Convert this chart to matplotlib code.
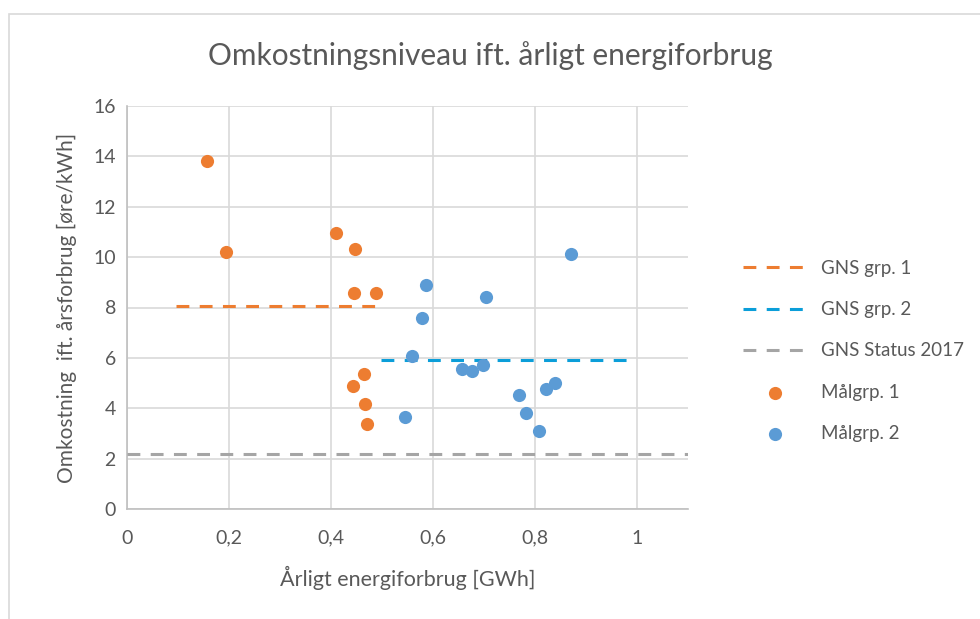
import numpy as np
import matplotlib.pyplot as plt
from matplotlib.patches import Rectangle
from matplotlib.ticker import FuncFormatter

plt.rcParams['font.family'] = ['Lato', 'DejaVu Sans']

# Målgruppe 1 (orange punkter)
grp1_x = [0.157, 0.194, 0.410, 0.447, 0.445, 0.488, 0.465, 0.443, 0.467, 0.471]
grp1_y = [13.83, 10.21, 10.97, 10.33, 8.58, 8.58, 5.36, 4.87, 4.17, 3.39]

# Målgruppe 2 (blå punkter)
grp2_x = [0.586, 0.579, 0.559, 0.546, 0.656, 0.677, 0.698, 0.703,
          0.769, 0.783, 0.807, 0.821, 0.840, 0.870]
grp2_y = [8.91, 7.59, 6.06, 3.65, 5.56, 5.48, 5.72, 8.40,
          4.54, 3.82, 3.08, 4.75, 4.99, 10.12]

# gennemsnitslinjer
gns1_x = [0.097, 0.488]
gns1_y = [8.05, 8.05]
gns2_x = [0.498, 0.980]
gns2_y = [5.90, 5.90]
status_x = [0.0, 1.1]
status_y = [2.2, 2.2]

txt = '#595959'
fig = plt.figure(figsize=(9.8, 6.19), dpi=100)
ax = fig.add_axes([127/980, 1 - 509/619, (688-127)/980, (509-106)/619])

# ramme rundt om diagrammet (skåret af i højre og nederste kant)
fig.patches.append(Rectangle((9/980, -0.1), 1.2, 1 - 14/619 + 0.1,
                             transform=fig.transFigure, fill=False,
                             edgecolor='#d9d9d9', lw=1.2))

dash = (0, (4.2, 3.4))
ax.plot(gns1_x, gns1_y, color='#ED7D31', lw=2.2, ls=dash, label='GNS grp. 1', zorder=3)
ax.plot(gns2_x, gns2_y, color='#0B9ED9', lw=2.2, ls=dash, label='GNS grp. 2', zorder=3)
ax.plot(status_x, status_y, color='#A5A5A5', lw=2.2, ls=dash, label='GNS Status 2017', zorder=3)
ax.scatter(grp1_x, grp1_y, s=90, color='#ED7D31', label='Målgrp. 1', zorder=4, linewidths=0)
ax.scatter(grp2_x, grp2_y, s=90, color='#5B9BD5', label='Målgrp. 2', zorder=4, linewidths=0)

ax.set_xlim(0, 1.1)
ax.set_ylim(0, 16)
ax.set_xticks(np.arange(0, 1.01, 0.2))
ax.set_yticks(np.arange(0, 16.1, 2))
ax.xaxis.set_major_formatter(FuncFormatter(lambda v, p: ('%g' % round(v, 1)).replace('.', ',')))
ax.grid(True, color='#d9d9d9', lw=1.2)
ax.set_axisbelow(True)
for s in ['top', 'right']:
    ax.spines[s].set_visible(False)
for s in ['left', 'bottom']:
    ax.spines[s].set_color('#bfbfbf')
    ax.spines[s].set_linewidth(1.2)
ax.tick_params(length=0, labelsize=14, colors=txt)
ax.tick_params(axis='x', pad=15)
ax.tick_params(axis='y', pad=8)

ax.set_xlabel('Årligt energiforbrug [GWh]', fontsize=15.5, color=txt, labelpad=14)
ax.set_ylabel('Omkostning  ift. årsforbrug [øre/kWh]', fontsize=15, color=txt, labelpad=12)
fig.text(0.5, 1 - 56/619, 'Omkostningsniveau ift. årligt energiforbrug',
         ha='center', va='center', fontsize=21.5, color=txt)

leg = fig.legend(loc='center left', bbox_to_anchor=(726/980, 1 - 351/619),
                 frameon=False, fontsize=13.5, handlelength=3.4, labelspacing=1.3,
                 handletextpad=0.75)
for t in leg.get_texts():
    t.set_color(txt)

fig.savefig('out.png', dpi=100)
